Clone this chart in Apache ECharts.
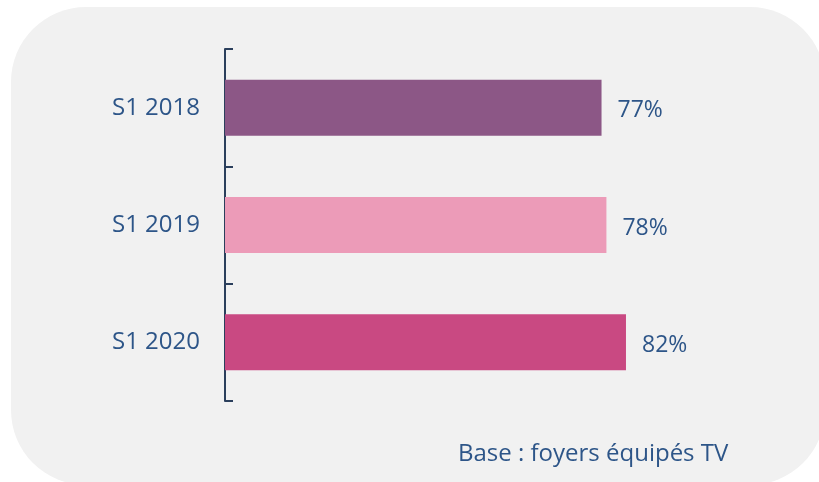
<!DOCTYPE html>
<html>
<head>
<meta charset="utf-8">
<style>
  html, body { margin: 0; padding: 0; background: #ffffff; }
  #chart { width: 819px; height: 482px; }
</style>
<script src="https://cdn.jsdelivr.net/npm/echarts@6/dist/echarts.min.js"></script>
</head>
<body>
<div id="chart"></div>
<script>
// ── Data ──
const categories = ['S1 2018', 'S1 2019', 'S1 2020'];
const values = [77, 78, 82];
const barColors = ['#8c5786', '#ec9bb8', '#c94982'];
const footnote = 'Base : foyers équipés TV';

const TEXT = '#2d5588';
const AXIS = '#2b3f5c';
const FONT = '"Open Sans", "Noto Sans", sans-serif';

const chart = echarts.init(document.getElementById('chart'));

chart.setOption({
  backgroundColor: '#ffffff',
  animation: false,
  graphic: [
    {
      type: 'rect', z: -10, silent: true,
      shape: { x: 11, y: 7, width: 814, height: 478, r: 75 },
      style: { fill: '#f1f1f1' },
    },
    {
      type: 'text', left: 458, top: 442,
      style: { text: footnote, fill: TEXT, font: '24px ' + FONT },
    },
  ],
  grid: { left: 225, right: 105, top: 49, bottom: 81 },
  xAxis: { type: 'value', min: 0, max: 100, show: false },
  yAxis: {
    type: 'category',
    data: categories,
    inverse: true,
    axisLine: { lineStyle: { color: AXIS, width: 2 } },
    axisTick: { show: true, inside: true, length: 8, lineStyle: { color: AXIS, width: 2 } },
    axisLabel: { color: TEXT, fontSize: 24, fontFamily: FONT, margin: 25, padding: [2, 0, 0, 0] },
  },
  series: [{
    type: 'bar',
    barWidth: 56,
    data: values.map((v, i) => ({ value: v, itemStyle: { color: barColors[i] } })),
    label: {
      show: true, position: 'right', distance: 16, offset: [0, 3],
      formatter: '{c}%',
      color: TEXT, fontSize: 23, fontFamily: FONT,
    },
  }],
});
</script>
</body>
</html>
